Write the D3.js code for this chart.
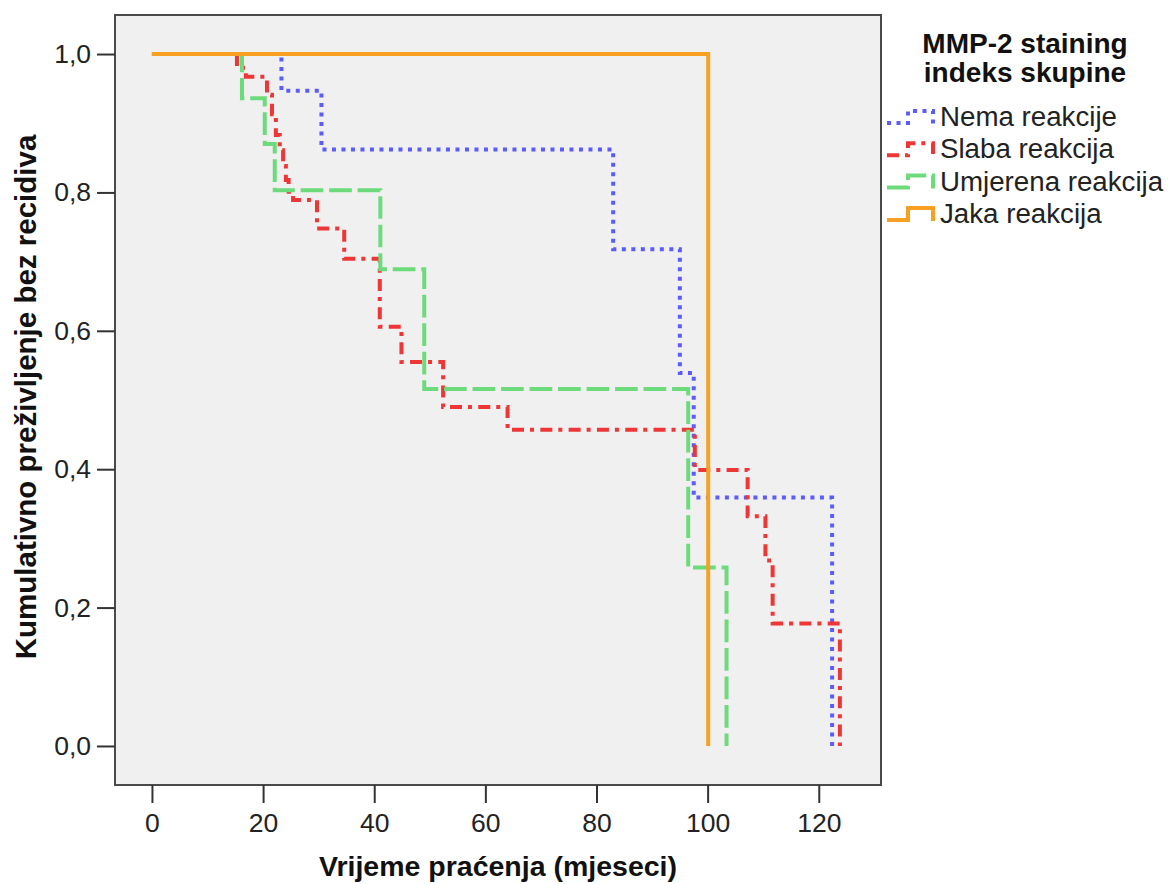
<!DOCTYPE html>
<html>
<head>
<meta charset="utf-8">
<script src="https://cdn.jsdelivr.net/npm/d3@7"></script>
<style>
  html, body { margin: 0; padding: 0; background: #ffffff; }
  svg { display: block; }
  text { font-family: "Liberation Sans", Arial, sans-serif; }
</style>
</head>
<body>
<svg id="chart" width="1169" height="884"></svg>
<script>
// ---------- data ----------
const groups = ["Nema reakcije", "Slaba reakcija", "Umjerena reakcija", "Jaka reakcija"];

const nemaTimes = [0, 23.3, 30.5, 83.0, 95.0, 97.5, 122.4];
const nemaSurv  = [1, 0.947, 0.862, 0.718, 0.539, 0.359, 0];

const slabaTimes = [0, 15.3, 16.9, 20.7, 21.6, 22.3, 23.0, 23.6, 24.1, 24.6, 25.4, 29.7, 34.6, 41.0, 44.9, 52.4, 64.0, 97.7, 107.2, 110.4, 111.7, 123.8];
const slabaSurv  = [1, 0.980, 0.967, 0.941, 0.913, 0.883, 0.861, 0.838, 0.818, 0.801, 0.789, 0.748, 0.704, 0.606, 0.555, 0.490, 0.457, 0.399, 0.332, 0.268, 0.177, 0];

const umjerenaTimes = [0, 16.2, 20.3, 22.1, 41.1, 49.0, 96.5, 103.4];
const umjerenaSurv  = [1, 0.936, 0.870, 0.803, 0.689, 0.516, 0.258, 0];

const jakaTimes = [0, 100.1];
const jakaSurv  = [1, 0];

const xTicks = [0, 20, 40, 60, 80, 100, 120];
const yTicks = [0, 0.2, 0.4, 0.6, 0.8, 1.0];

const xTitle = "Vrijeme praćenja (mjeseci)";
const yTitle = "Kumulativno preživljenje bez recidiva";
const legendTitle = ["MMP-2 staining", "indeks skupine"];

// ---------- styles ----------
const colors = ["#5b5bff", "#ee3636", "#6ddb7c", "#f7a021"];
const dashes = ["4,5.5", "12,6,4,6.3", "22.7,5.8", null];

// ---------- layout ----------
const svg = d3.select("#chart");
const frame = { left: 115, right: 881, top: 15, bottom: 785 };

const x = d3.scaleLinear().domain([-6.65, 131.2]).range([frame.left, frame.right]);
const y = d3.scaleLinear().domain([-0.0564, 1.0564]).range([frame.bottom, frame.top]);

// plot background
svg.append("rect")
  .attr("x", frame.left).attr("y", frame.top)
  .attr("width", frame.right - frame.left).attr("height", frame.bottom - frame.top)
  .attr("fill", "#f0f0f0");

// series
const series = [
  { name: groups[0], t: nemaTimes, s: nemaSurv },
  { name: groups[1], t: slabaTimes, s: slabaSurv },
  { name: groups[2], t: umjerenaTimes, s: umjerenaSurv },
  { name: groups[3], t: jakaTimes, s: jakaSurv }
];

const line = d3.line()
  .x(d => x(d[0]))
  .y(d => y(d[1]))
  .curve(d3.curveStepAfter);

series.forEach((ser, i) => {
  const pts = ser.t.map((t, k) => [t, ser.s[k]]);
  svg.append("path")
    .datum(pts)
    .attr("d", line)
    .attr("fill", "none")
    .attr("stroke", colors[i])
    .attr("stroke-width", 4)
    .attr("stroke-linecap", "butt")
    .attr("stroke-dasharray", dashes[i]);
});

// frame
svg.append("rect")
  .attr("x", frame.left).attr("y", frame.top)
  .attr("width", frame.right - frame.left).attr("height", frame.bottom - frame.top)
  .attr("fill", "none")
  .attr("stroke", "#4a4a4a")
  .attr("stroke-width", 2);

const fmt = d => d3.format(".1f")(d).replace(".", ",");

// x axis
const gx = svg.append("g")
  .attr("transform", `translate(0,${frame.bottom})`)
  .call(d3.axisBottom(x).tickValues(xTicks).tickSize(18).tickPadding(10).tickFormat(d3.format("d")));
gx.select(".domain").remove();
gx.selectAll(".tick line").attr("stroke", "#333").attr("stroke-width", 2);
gx.selectAll(".tick text")
  .attr("fill", "#222")
  .style("font-size", "26.5px")
  .style("font-family", "'Liberation Sans', Arial, sans-serif");

// y axis
const gy = svg.append("g")
  .attr("transform", `translate(${frame.left},0)`)
  .call(d3.axisLeft(y).tickValues(yTicks).tickSize(18).tickPadding(6).tickFormat(fmt));
gy.select(".domain").remove();
gy.selectAll(".tick line").attr("stroke", "#333").attr("stroke-width", 2);
gy.selectAll(".tick text")
  .attr("fill", "#222")
  .style("font-size", "26.5px")
  .style("font-family", "'Liberation Sans', Arial, sans-serif");

// axis titles
svg.append("text")
  .attr("x", (frame.left + frame.right) / 2)
  .attr("y", 876)
  .attr("text-anchor", "middle")
  .attr("font-weight", "bold")
  .attr("font-size", 28.5)
  .attr("fill", "#111")
  .text(xTitle);

svg.append("text")
  .attr("transform", `translate(36,397) rotate(-90)`)
  .attr("text-anchor", "middle")
  .attr("font-weight", "bold")
  .attr("font-size", 29.5)
  .attr("fill", "#111")
  .text(yTitle);

// legend
const lg = svg.append("g");
const legendCx = 1025;
legendTitle.forEach((t, i) => {
  lg.append("text")
    .attr("x", legendCx)
    .attr("y", 53 + i * 28.5)
    .attr("text-anchor", "middle")
    .attr("font-weight", "bold")
    .attr("font-size", 28)
    .attr("fill", "#111")
    .text(t);
});

const legX0 = 887, legStep = 908, legX1 = 933, legText = 940;
groups.forEach((g, i) => {
  const base = 126 + i * 32.3;
  const low = base - 3, high = base - 15;
  lg.append("path")
    .attr("d", `M${legX0},${low} H${legStep} V${high} H${legX1} V${low + 1}`)
    .attr("fill", "none")
    .attr("stroke", colors[i])
    .attr("stroke-width", 4)
    .attr("stroke-dasharray", dashes[i]);
  lg.append("text")
    .attr("x", legText)
    .attr("y", base)
    .attr("font-size", 27.7)
    .attr("fill", "#222")
    .text(g);
});
</script>
</body>
</html>
